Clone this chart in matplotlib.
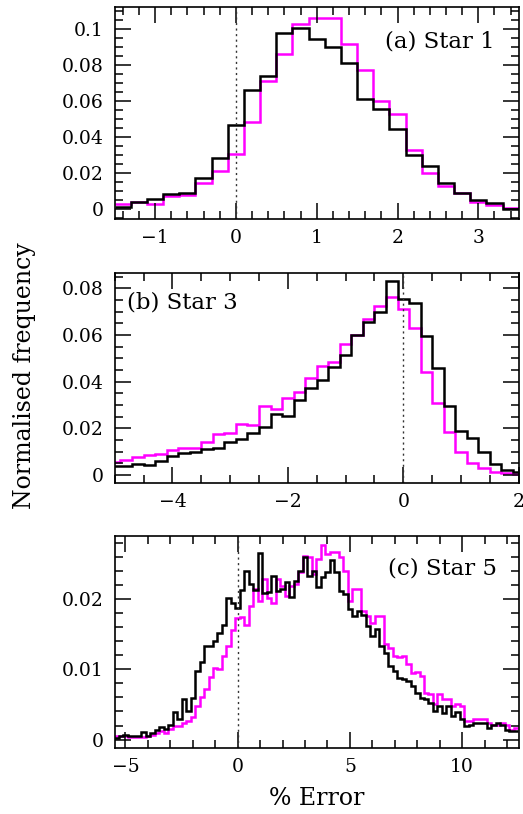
import numpy as np
import matplotlib
matplotlib.use('Agg')
import matplotlib.pyplot as plt
from matplotlib.ticker import MultipleLocator, FuncFormatter

plt.rcParams['font.family'] = ['DejaVu Serif']
plt.rcParams['mathtext.fontset'] = 'dejavuserif'

# --- data (normalised frequency per bin) ---
# (a) Star 1, bins of 0.2 from -1.5 to 3.5
edges_a = np.linspace(-1.5, 3.5, 26)
black_a = [0.0013, 0.0041, 0.0056, 0.0087, 0.0093, 0.0174, 0.0287, 0.0470,
           0.0661, 0.0739, 0.0980, 0.1007, 0.0944, 0.0902, 0.0813, 0.0611,
           0.0559, 0.0448, 0.0300, 0.0241, 0.0143, 0.0091, 0.0054, 0.0037,
           0.0004]
magenta_a = [0.0031, 0.0041, 0.0028, 0.0072, 0.0081, 0.0143, 0.0213, 0.0306,
             0.0485, 0.0713, 0.0861, 0.1028, 0.1063, 0.1065, 0.0920, 0.0772,
             0.0602, 0.0528, 0.0328, 0.0202, 0.0128, 0.0091, 0.0041, 0.0022,
             0.0005]

# (b) Star 3, bins of 0.2 from -5.1 to 2.1
edges_b = np.linspace(-5.1, 2.1, 37)
black_b = [0.0036, 0.0036, 0.0047, 0.0043, 0.0060, 0.0079, 0.0093, 0.0096,
           0.0111, 0.0117, 0.0143, 0.0154, 0.0181, 0.0207, 0.0260, 0.0254,
           0.0319, 0.0372, 0.0407, 0.0462, 0.0514, 0.0600, 0.0657, 0.0696,
           0.0829, 0.0753, 0.0736, 0.0596, 0.0457, 0.0296, 0.0189, 0.0160,
           0.0097, 0.0047, 0.0019, 0.0011]
magenta_b = [0.0054, 0.0064, 0.0076, 0.0086, 0.0089, 0.0107, 0.0117, 0.0117,
             0.0143, 0.0174, 0.0179, 0.0217, 0.0214, 0.0296, 0.0283, 0.0329,
             0.0357, 0.0414, 0.0467, 0.0482, 0.0562, 0.0600, 0.0667, 0.0725,
             0.0762, 0.0710, 0.0629, 0.0440, 0.0307, 0.0183, 0.0096, 0.0053,
             0.0029, 0.0011, 0.0007, 0.0004]

# (c) Star 5, bins of 0.2 from -5.5 to 12.5
edges_c = np.linspace(-5.5, 12.5, 91)
black_c = [0.00024, 0.00048, 0.00062, 0.00048, 0.00048, 0.00057, 0.00105, 0.00048,
           0.00095, 0.00133, 0.00181, 0.00157, 0.00214, 0.00395, 0.00286, 0.00571,
           0.00414, 0.00595, 0.00976, 0.01105, 0.01333, 0.01333, 0.01405, 0.01524,
           0.01633, 0.02024, 0.01952, 0.01881, 0.02129, 0.02405, 0.02214, 0.02133,
           0.02657, 0.02095, 0.02105, 0.02333, 0.02119, 0.02143, 0.02252, 0.02038,
           0.02262, 0.02405, 0.02595, 0.02333,
           0.02405, 0.02167, 0.02310, 0.02381, 0.02562, 0.02381, 0.02119, 0.02071,
           0.01857, 0.01762, 0.01833, 0.01771, 0.01619, 0.01476, 0.01571, 0.01333,
           0.01238, 0.01048, 0.00976, 0.00881, 0.00857, 0.00833, 0.00762, 0.00667,
           0.00595, 0.00581, 0.00524, 0.00405, 0.00476, 0.00381, 0.00476, 0.00333,
           0.00390, 0.00286, 0.00200, 0.00214, 0.00238, 0.00238, 0.00238, 0.00167,
           0.00214, 0.00238, 0.00214, 0.00143, 0.00119, 0.00119]
magenta_c = [0.00048, 0.00048, 0.00048, 0.00033, 0.00033, 0.00033, 0.00033, 0.00057,
             0.00071, 0.00095, 0.00129, 0.00095, 0.00157, 0.00190, 0.00200, 0.00229,
             0.00262, 0.00324, 0.00476, 0.00610, 0.00714, 0.00895, 0.01024, 0.01000,
             0.01190, 0.01333, 0.01562, 0.01738, 0.01748, 0.01629, 0.01905, 0.02143,
             0.01976, 0.02286, 0.02024, 0.01943, 0.02286, 0.02190, 0.02048, 0.02190,
             0.02214, 0.02381, 0.02619, 0.02595,
             0.02357, 0.02571, 0.02771, 0.02643, 0.02667, 0.02667, 0.02595, 0.02405,
             0.01976, 0.02143, 0.02143, 0.01833, 0.01762, 0.01667, 0.01762, 0.01762,
             0.01357, 0.01310, 0.01190, 0.01181, 0.01190, 0.01071, 0.00952, 0.00962,
             0.00905, 0.00667, 0.00643, 0.00500, 0.00643, 0.00571, 0.00571, 0.00476,
             0.00500, 0.00476, 0.00262, 0.00262, 0.00286, 0.00286, 0.00295, 0.00238,
             0.00214, 0.00214, 0.00229, 0.00214, 0.00143, 0.00167]

labels = ['(a) Star 1', '(b) Star 3', '(c) Star 5']


def fmt(v, pos):
    s = '%g' % v
    return s.replace('-', '\u2212')


fig = plt.figure(figsize=(5.23, 8.14), dpi=100)
left, width = 0.2193, 0.7725
ax_a = fig.add_axes([left, 0.7310, width, 0.2601])
ax_b = fig.add_axes([left, 0.4063, width, 0.2580])
ax_c = fig.add_axes([left, 0.0811, width, 0.2604])

panels = [
    (ax_a, edges_a, black_a, magenta_a, (-1.5, 3.5), (-0.0054, 0.1122), 1, 0.2, 0.02, 0.005),
    (ax_b, edges_b, black_b, magenta_b, (-5, 2), (-0.0036, 0.0864), 2, 0.5, 0.02, 0.005),
    (ax_c, edges_c, black_c, magenta_c, (-5.48, 12.52), (-0.0012, 0.029), 5, 1, 0.01, 0.002),
]

for ax, edges, blk, mag, xl, yl, xmaj, xmin, ymaj, ymin in panels:
    ax.stairs(mag, edges, baseline=None, color='#ff00ff', lw=1.8)
    ax.stairs(blk, edges, baseline=None, color='black', lw=1.8)
    ax.axvline(0, color='#333333', lw=1.0, ls=(0, (1.5, 2.5)))
    ax.set_xlim(*xl)
    ax.set_ylim(*yl)
    ax.xaxis.set_major_locator(MultipleLocator(xmaj))
    ax.xaxis.set_minor_locator(MultipleLocator(xmin))
    ax.yaxis.set_major_locator(MultipleLocator(ymaj))
    ax.yaxis.set_minor_locator(MultipleLocator(ymin))
    ax.xaxis.set_major_formatter(FuncFormatter(fmt))
    ax.yaxis.set_major_formatter(FuncFormatter(fmt))
    ax.tick_params(which='both', direction='in', top=True, right=True, width=1.1)
    ax.tick_params(which='major', length=11.5, labelsize=13.5)
    ax.tick_params(which='minor', length=5.8)
    ax.tick_params(axis='x', which='major', pad=7)
    ax.tick_params(axis='y', which='major', pad=8)
    for sp in ax.spines.values():
        sp.set_linewidth(1.2)

ax_a.text(0.941, 0.8375, labels[0], transform=ax_a.transAxes, ha='right', va='center', fontsize=16.5)
ax_b.text(0.030, 0.8586, labels[1], transform=ax_b.transAxes, ha='left', va='center', fontsize=16.5)
ax_c.text(0.947, 0.849, labels[2], transform=ax_c.transAxes, ha='right', va='center', fontsize=16.5)

ax_c.set_xlabel('% Error', fontsize=17, labelpad=8)
fig.text(25 / 523, 1 - 376 / 814, 'Normalised frequency', rotation=90,
         ha='center', va='center', fontsize=17)

fig.savefig('out.png', dpi=100)
